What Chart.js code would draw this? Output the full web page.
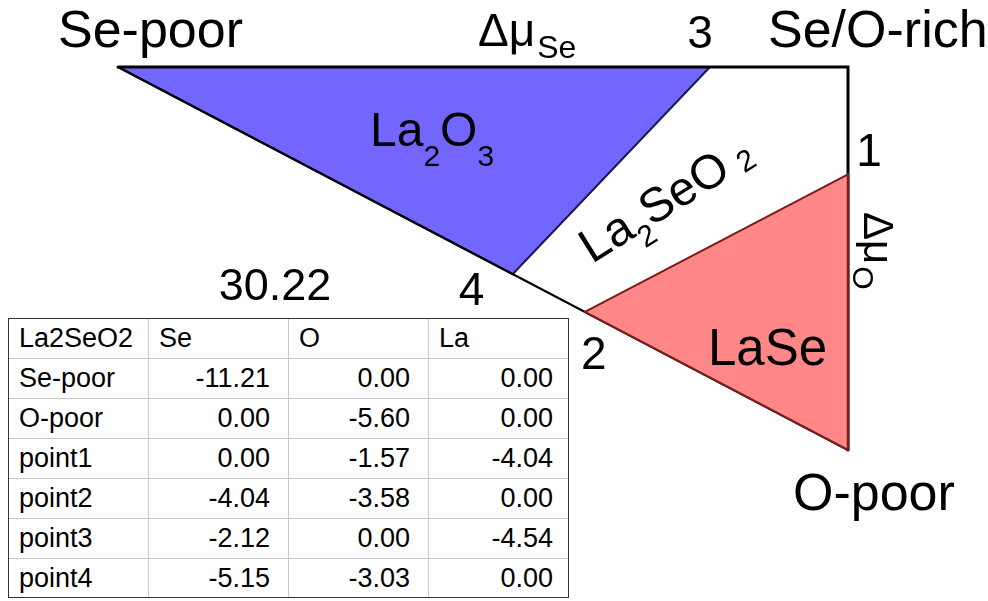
<!DOCTYPE html>
<html><head><meta charset="utf-8">
<script src="https://cdn.jsdelivr.net/npm/chart.js@4.4.1/dist/chart.umd.min.js"></script>
<style>
html,body{margin:0;padding:0;background:#fff;}
#wrap{position:relative;width:988px;height:601px;overflow:hidden;background:#fff;}
#c{position:absolute;left:0;top:0;}
#tbl{position:absolute;left:8px;top:318px;border:1px solid #333;display:grid;
  grid-template-columns:140px 140px 140px 139px;grid-template-rows:repeat(6,40px) 38px;
  font-family:"Liberation Sans",Arial,Helvetica,sans-serif;font-size:27px;color:#000;background:#fff;}
#tbl div{box-sizing:border-box;border-right:1px solid #c8c8c8;border-bottom:1px solid #c8c8c8;
  display:flex;align-items:center;padding:0 18px 0 10px;white-space:nowrap;}
#tbl div.num{justify-content:flex-end;}
#tbl div.lastc{border-right:none;padding-right:15px;}
#tbl div.lastr{border-bottom:none;}
</style></head>
<body>
<div id="wrap">
<canvas id="c" width="988" height="601"></canvas>
<div id="tbl"></div>
</div>
<script>
// ---- data ----
const tableHeaders = ['La2SeO2', 'Se', 'O', 'La'];
const rowNames = ['Se-poor', 'O-poor', 'point1', 'point2', 'point3', 'point4'];
const seValues = [-11.21, 0.00, 0.00, -4.04, -2.12, -5.15];
const oValues  = [0.00, -5.60, -1.57, -3.58, 0.00, -3.03];
const laValues = [0.00, 0.00, -4.04, 0.00, -4.54, 0.00];
const seRange = [-11.21, 0];
const oRange = [-5.60, 0];
const cornerLabels = ['Se-poor', 'Se/O-rich', 'O-poor'];
const phaseNames = ['La2O3', 'La2SeO2', 'LaSe'];
const pointLabels = ['1', '2', '3', '4'];
const extraValue = '30.22';

// ---- table ----
const tbl = document.getElementById('tbl');
function cell(text, cls) {
  const d = document.createElement('div');
  d.textContent = text;
  if (cls) d.className = cls;
  tbl.appendChild(d);
}
tableHeaders.forEach((h, j) => cell(h, j === 3 ? 'lastc' : ''));
rowNames.forEach((r, i) => {
  const last = i === rowNames.length - 1 ? ' lastr' : '';
  cell(r, last.trim());
  cell(seValues[i].toFixed(2), 'num' + last);
  cell(oValues[i].toFixed(2), 'num' + last);
  cell(laValues[i].toFixed(2), 'num lastc' + last);
});

// ---- chart ----
const P = name => { const i = rowNames.indexOf(name); return {x: seValues[i], y: oValues[i]}; };
const rich = {x: seRange[1], y: oRange[1]};
const sePoor = P('Se-poor'), oPoor = P('O-poor');
const p1 = P('point1'), p2 = P('point2'), p3 = P('point3'), p4 = P('point4');

const FONT = '"Liberation Sans", Arial, Helvetica, sans-serif';
function drawRich(ctx, parts, x, y) {
  let cx = x;
  parts.forEach(p => {
    ctx.font = p.size + 'px ' + FONT;
    cx += (p.gap || 0);
    ctx.fillText(p.t, cx, y + (p.dy || 0));
    cx += ctx.measureText(p.t).width;
  });
}

const labelPlugin = {
  id: 'labels',
  afterDatasetsDraw(chart) {
    const {ctx, scales: {x, y}} = chart;
    ctx.save();
    ctx.fillStyle = '#000';
    ctx.textBaseline = 'alphabetic';
    ctx.textAlign = 'left';
    // corner labels
    ctx.font = '52px ' + FONT;
    ctx.fillText(cornerLabels[0], 58, 47);
    ctx.fillText(cornerLabels[1], 768, 47);
    ctx.fillText(cornerLabels[2], 793, 510);
    // axis labels
    drawRich(ctx, [{t: 'Δμ', size: 46}, {t: 'Se', size: 32, dy: 12, gap: 2}], 478, 46);
    ctx.save();
    ctx.translate(864, 212);
    ctx.rotate(Math.PI / 2);
    drawRich(ctx, [{t: 'Δμ', size: 42}, {t: 'O', size: 30, dy: 11, gap: 2}], 0, 0);
    ctx.restore();
    // phase labels
    drawRich(ctx, [{t: 'La', size: 48}, {t: '2', size: 30, dy: 20}, {t: 'O', size: 48}, {t: '3', size: 30, dy: 20}], 370, 146);
    ctx.font = '51px ' + FONT;
    ctx.fillText(phaseNames[2], 708, 365);
    ctx.save();
    ctx.translate(592, 264);
    ctx.rotate(-32 * Math.PI / 180);
    drawRich(ctx, [{t: 'La', size: 48}, {t: '2', size: 30, dy: 15}, {t: 'SeO', size: 48}, {t: '2', size: 30, dy: 4, gap: 11}], 0, 0);
    ctx.restore();
    // point labels
    const offs = [[21, -8], [9, 57], [-10, -19], [-41, 31]];
    const pts = [p1, p2, p3, p4];
    ctx.font = '46px ' + FONT;
    ctx.textAlign = 'center';
    pts.forEach((p, i) => {
      ctx.fillText(pointLabels[i], x.getPixelForValue(p.x) + offs[i][0], y.getPixelForValue(p.y) + offs[i][1]);
    });
    ctx.font = '45px ' + FONT;
    ctx.fillText(extraValue, 275, 300);
    ctx.restore();
  }
};

const base = {showLine: true, pointRadius: 0, clip: false, borderCapStyle: 'round', borderJoinStyle: 'miter'};
new Chart(document.getElementById('c'), {
  type: 'scatter',
  data: {
    datasets: [
      Object.assign({}, base, {label: 'LaSe upper', data: [p2, p1], borderColor: '#7a1c1c', borderWidth: 2, fill: false, order: 1}),
      Object.assign({}, base, {label: 'LaSe', data: [p2, oPoor], borderColor: '#7a1c1c', borderWidth: 2, backgroundColor: '#ff8787', fill: '-1', order: 2}),
      Object.assign({}, base, {label: 'LaSe edge', data: [p1, oPoor], borderColor: '#7a1c1c', borderWidth: 2.5, fill: false, order: 0}),
      Object.assign({}, base, {label: 'frame', data: [sePoor, rich, oPoor], borderColor: '#000', borderWidth: 3, fill: false, order: 3}),
      Object.assign({}, base, {label: 'hyp', data: [sePoor, oPoor], borderColor: '#000', borderWidth: 2, fill: false, order: 4}),
      Object.assign({}, base, {label: 'La2O3', data: [sePoor, p4, p3], borderColor: '#1a1850', borderWidth: 2, backgroundColor: '#7366ff', fill: {value: 0}, order: 5})
    ]
  },
  options: {
    responsive: false,
    animation: false,
    devicePixelRatio: 1,
    layout: {padding: {left: 118, right: 140, top: 67, bottom: 151}},
    scales: {
      x: {type: 'linear', min: seRange[0], max: seRange[1], display: false},
      y: {type: 'linear', min: oRange[0], max: oRange[1], display: false}
    },
    plugins: {legend: {display: false}, tooltip: {enabled: false}}
  },
  plugins: [labelPlugin]
});
</script>
</body></html>
